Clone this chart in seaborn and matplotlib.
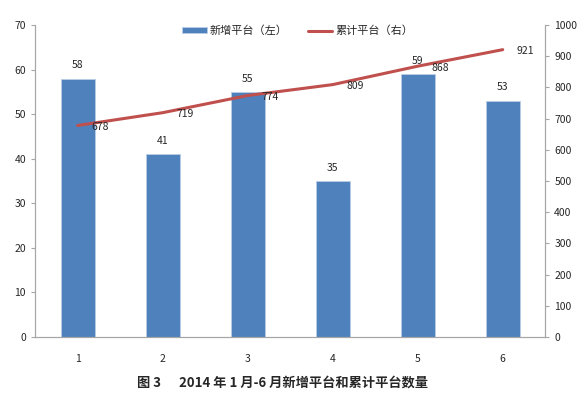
import numpy as np
import pandas as pd
import matplotlib
matplotlib.use("Agg")
import matplotlib.pyplot as plt
import seaborn as sns

# chart data
months = ["1", "2", "3", "4", "5", "6"]
new_platforms = [58, 41, 55, 35, 59, 53]
total_platforms = [678, 719, 774, 809, 868, 921]

sns.set_style("white")
plt.rcParams["font.family"] = ["Noto Sans CJK SC", "DejaVu Sans"]

df = pd.DataFrame({"month": months, "new": new_platforms, "total": total_platforms})

fig = plt.figure(figsize=(5.85, 3.97), dpi=100)
ax = fig.add_axes([0.06, 0.151, 0.872, 0.786])

sns.barplot(data=df, x="month", y="new", color="#4F81BD", saturation=1,
            width=0.4, ax=ax, label="新增平台（左）", edgecolor="#B9CDE5", linewidth=0.6)
ax.set_xlim(-0.5, 5.5)
ax.set_ylim(0, 70)
ax.set_yticks(range(0, 71, 10))
ax.set_xlabel("")
ax.set_ylabel("")
for i, v in enumerate(new_platforms):
    ax.annotate(str(v), (i, v), xytext=(0, 6), textcoords="offset points",
                ha="center", va="bottom", fontsize=7.5)

ax2 = ax.twinx()
sns.lineplot(x=np.arange(len(months)), y=df["total"], color="#C0504D",
             linewidth=2.2, ax=ax2, label="累计平台（右）")
ax2.set_ylim(0, 1000)
ax2.set_yticks(range(0, 1001, 100))
ax2.set_ylabel("")
for i, v in enumerate(total_platforms):
    ax2.annotate(str(v), (i, v), xytext=(10, -1), textcoords="offset points",
                 ha="left", va="center", fontsize=7.5)

for a in (ax, ax2):
    a.spines["top"].set_visible(False)
    for s in ("left", "right", "bottom"):
        a.spines[s].set_color("#A6A6A6")
        a.spines[s].set_linewidth(0.8)
    a.tick_params(axis="y", labelsize=7.5, length=3, color="#A6A6A6", direction="out")
ax.tick_params(axis="y", left=True)
ax2.tick_params(axis="y", right=True)
ax.tick_params(axis="x", labelsize=7.5, length=0, pad=12)
# category boundary ticks on x axis
ax.set_xticks(np.arange(-0.5, 6, 1), minor=True)
ax.tick_params(axis="x", which="minor", length=3, color="#A6A6A6", direction="out")

h1, l1 = ax.get_legend_handles_labels()
h2, l2 = ax2.get_legend_handles_labels()
if ax2.get_legend():
    ax2.get_legend().remove()
if ax.get_legend():
    ax.get_legend().remove()
ax.legend(h1 + h2, l1 + l2, loc="upper center", bbox_to_anchor=(0.515, 1.03),
          ncol=2, frameon=False, fontsize=8, handlelength=2.2, handleheight=0.5,
          columnspacing=1.8, handletextpad=0.3)

fig.text(0.483, 0.035, "图 3      2014 年 1 月-6 月新增平台和累计平台数量",
         ha="center", va="center", fontsize=9.5, fontweight="bold")

fig.savefig("out.png", dpi=100)
